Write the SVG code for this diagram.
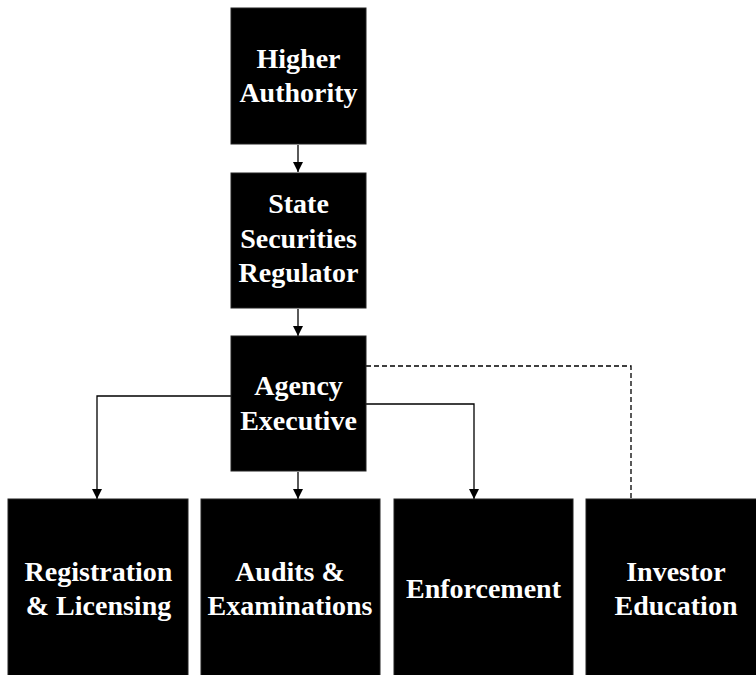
<svg xmlns="http://www.w3.org/2000/svg" width="756" height="675" viewBox="0 0 756 675">
  <style>
    .box { fill: #000; stroke: #222; stroke-width: 1; }
    .label { fill: #fff; font-family: "Liberation Serif", "DejaVu Serif", serif; font-weight: bold; font-size: 28px; text-anchor: middle; }
    .link { fill: none; stroke: #000; stroke-width: 1.3; }
    .dashed { stroke-dasharray: 5 3; }
  </style>
  <defs>
    <marker id="arrow" viewBox="0 0 10 10" refX="10" refY="5" markerWidth="10" markerHeight="10" markerUnits="userSpaceOnUse" orient="auto">
      <path d="M0,0 L10,5 L0,10 Z" fill="#000"/>
    </marker>
  </defs>

  <rect width="756" height="675" fill="#fff"/>

  <g id="connectors">
    <path class="link" d="M298,145 V172" marker-end="url(#arrow)"/>
    <path class="link" d="M298,309 V336" marker-end="url(#arrow)"/>
    <path class="link" d="M298,472 V499" marker-end="url(#arrow)"/>
    <path class="link" d="M231,396 H97 V499" marker-end="url(#arrow)"/>
    <path class="link" d="M366,404 H474 V499" marker-end="url(#arrow)"/>
    <path class="link dashed" d="M366,366 H631 V499"/>
  </g>

  <g id="higher-authority">
    <rect class="box" x="231" y="8" width="135" height="136"/>
    <text class="label" x="298.5" y="68">Higher</text>
    <text class="label" x="298.5" y="102">Authority</text>
  </g>

  <g id="state-securities-regulator">
    <rect class="box" x="231" y="173" width="135" height="135"/>
    <text class="label" x="298.5" y="213">State</text>
    <text class="label" x="298.5" y="248">Securities</text>
    <text class="label" x="298.5" y="282">Regulator</text>
  </g>

  <g id="agency-executive">
    <rect class="box" x="231" y="336" width="135" height="135"/>
    <text class="label" x="298.5" y="395">Agency</text>
    <text class="label" x="298.5" y="430">Executive</text>
  </g>

  <g id="registration-licensing">
    <rect class="box" x="8" y="499" width="180" height="182"/>
    <text class="label" x="98.5" y="581">Registration</text>
    <text class="label" x="98.5" y="615">&amp; Licensing</text>
  </g>

  <g id="audits-examinations">
    <rect class="box" x="201" y="499" width="179" height="182"/>
    <text class="label" x="290" y="581">Audits &amp;</text>
    <text class="label" x="290" y="615">Examinations</text>
  </g>

  <g id="enforcement">
    <rect class="box" x="394" y="499" width="179" height="182"/>
    <text class="label" x="483.5" y="598">Enforcement</text>
  </g>

  <g id="investor-education">
    <rect class="box" x="586" y="499" width="180" height="182"/>
    <text class="label" x="676" y="581">Investor</text>
    <text class="label" x="676" y="615">Education</text>
  </g>
</svg>
